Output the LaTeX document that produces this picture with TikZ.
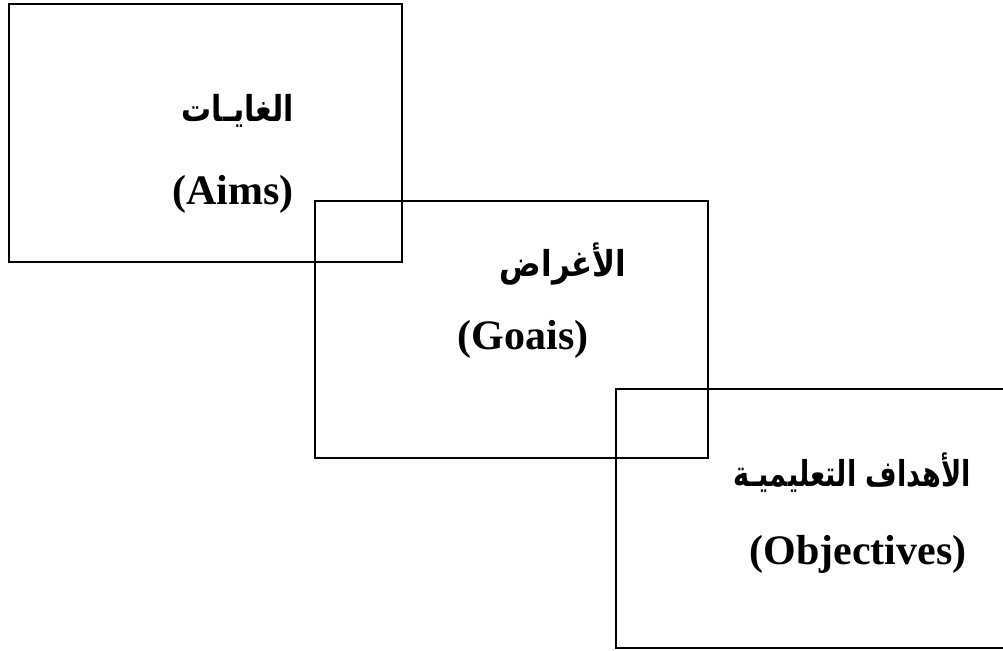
\documentclass[tikz,border=0pt]{standalone}
\usepackage{fontspec}
\setmainfont{Liberation Serif}
\newfontfamily\arabicfont[Script=Arabic]{DejaVu Sans}
\TeXXeTstate=1
\tikzset{
  entxt/.style={font=\fontsize{21}{24}\selectfont\bfseries, inner sep=0pt, anchor=base},
  artxt/.style={font=\arabicfont\fontsize{17}{22}\selectfont\bfseries, inner sep=0pt}
}
\begin{document}
\begin{tikzpicture}[x=0.5pt,y=-0.5pt,line width=1pt]
\useasboundingbox (0,0) rectangle (1003,651);
\draw (9,4) rectangle (402,262);
\draw (315,201) rectangle (708,458);
\draw (616,389) rectangle (1010,648);

\node [artxt] (aimsar) at (238,111) {\scalebox{0.88}[1.05]{\beginR الغايـات\endR}};
\node [entxt] (aims) at (233,205) {(Aims)};
\node [artxt] (goalsar) at (563,264) {\scalebox{0.91}[1.05]{\beginR الأغراض\endR}};
\node [entxt] (goals) at (523,350) {(Goais)};
\node [artxt] (objar) at (852,473) {\scalebox{0.8}[1.05]{\beginR الأهداف التعليميـة\endR}};
\node [entxt] (obj) at (858,565) {(Objectives)};
\end{tikzpicture}
\end{document}
